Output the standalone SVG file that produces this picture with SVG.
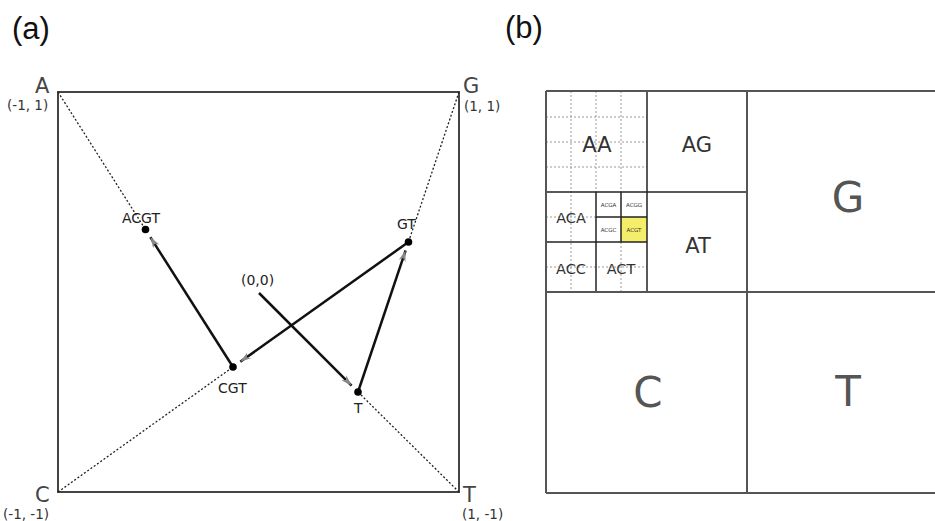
<svg xmlns="http://www.w3.org/2000/svg" width="935" height="521" viewBox="0 0 935 521">
<defs>
<style>
.t{font-family:"DejaVu Sans",Verdana,sans-serif;fill:#333}
.cap{font-family:"Liberation Sans",Arial,sans-serif;font-size:31px;fill:#111}
.corner{font-family:"DejaVu Sans",Verdana,sans-serif;font-size:21px;fill:#444}
.coord{font-family:"DejaVu Sans",Verdana,sans-serif;font-size:13.5px;fill:#333}
.lbl{font-family:"DejaVu Sans",Verdana,sans-serif;font-size:14px;fill:#222}
.dot{stroke:#222;stroke-width:1.3;stroke-dasharray:2 2;fill:none}
.arr{stroke:#111;stroke-width:2.5;fill:none;marker-end:url(#ah)}
.grid{stroke:#999;stroke-width:1;stroke-dasharray:2 2;fill:none}
.box{stroke:#222;stroke-width:1.5;fill:none}
.outer{stroke:#555;stroke-width:2;fill:none}
</style>
<marker id="ah" viewBox="0 0 12 8" refX="11" refY="4" markerWidth="12" markerHeight="8" markerUnits="userSpaceOnUse" orient="auto">
<path d="M0,0.5 L11,4 L0,7.5 L3,4 z" fill="#888"/>
</marker>
</defs>
<text class="cap" x="12" y="39">(a)</text>
<text class="cap" x="505" y="38">(b)</text>

<g id="panel-a">
<rect x="58" y="92" width="401" height="400" fill="none" stroke="#444" stroke-width="2"/>
<g id="corner-A"><text class="corner" x="35" y="93">A</text><text class="coord" x="7" y="110">(-1, 1)</text></g>
<g id="corner-G"><text class="corner" x="463" y="93">G</text><text class="coord" x="464" y="111">(1, 1)</text></g>
<g id="corner-C"><text class="corner" x="35" y="502">C</text><text class="coord" x="3" y="519">(-1, -1)</text></g>
<g id="corner-T"><text class="corner" x="463" y="502">T</text><text class="coord" x="462" y="519">(1, -1)</text></g>
</g>

<g id="guides">
<line class="dot" x1="58" y1="92" x2="145.5" y2="229.5"/>
<line class="dot" x1="459" y1="92" x2="408.5" y2="242"/>
<line class="dot" x1="58" y1="492" x2="233" y2="367"/>
<line class="dot" x1="459" y1="492" x2="358" y2="392"/>
</g>

<g id="connectors">
<line class="arr" x1="259" y1="293" x2="351.6" y2="385.6"/>
<line class="arr" x1="358" y1="392" x2="405.6" y2="250.5"/>
<line class="arr" x1="408.5" y1="242" x2="240.3" y2="361.8"/>
<line class="arr" x1="233" y1="367" x2="150.3" y2="237.1"/>
</g>

<g id="node-origin"><text class="lbl" x="241" y="285">(0,0)</text></g>
<g id="node-T"><circle cx="358" cy="392" r="3.8" fill="#000"/><text class="lbl" x="354" y="413">T</text></g>
<g id="node-GT"><circle cx="408.5" cy="242" r="3.8" fill="#000"/><text class="lbl" x="397" y="229">GT</text></g>
<g id="node-CGT"><circle cx="233" cy="367" r="3.8" fill="#000"/><text class="lbl" x="218" y="393">CGT</text></g>
<g id="node-ACGT"><circle cx="145.5" cy="229.5" r="3.8" fill="#000"/><text class="lbl" x="122" y="223">ACGT</text></g>

<g id="panel-b">
<rect x="621" y="217" width="26" height="25" fill="#f5ee6b"/>
<g id="dotted-grid">
<line class="grid" x1="571" y1="91" x2="571" y2="292"/>
<line class="grid" x1="596" y1="91" x2="596" y2="192"/>
<line class="grid" x1="621" y1="91" x2="621" y2="192"/>
<line class="grid" x1="621" y1="242" x2="621" y2="292"/>
<line class="grid" x1="546" y1="117" x2="647" y2="117"/>
<line class="grid" x1="546" y1="142" x2="647" y2="142"/>
<line class="grid" x1="546" y1="167" x2="647" y2="167"/>
<line class="grid" x1="546" y1="217" x2="596" y2="217"/>
<line class="grid" x1="546" y1="267" x2="647" y2="267"/>
</g>
<g id="inner-boxes">
<line class="box" x1="647" y1="91" x2="647" y2="292"/>
<line class="box" x1="546" y1="192" x2="747" y2="192"/>
<line class="box" x1="596" y1="192" x2="596" y2="292"/>
<line class="box" x1="546" y1="242" x2="647" y2="242"/>
<line class="box" x1="621" y1="192" x2="621" y2="242"/>
<line class="box" x1="596" y1="217" x2="647" y2="217"/>
<line class="box" x1="546" y1="292" x2="747" y2="292"/>
</g>
<g id="outer-boxes">
<line class="outer" x1="546" y1="91" x2="946" y2="91"/>
<line class="outer" x1="546" y1="493" x2="946" y2="493"/>
<line class="outer" x1="546" y1="91" x2="546" y2="493"/>
<line class="outer" x1="747" y1="91" x2="747" y2="493"/>
<line class="outer" x1="747" y1="292" x2="946" y2="292"/>
<line class="outer" x1="546" y1="292" x2="747" y2="292"/>
</g>
<g id="labels-b" class="t" text-anchor="middle">
<text x="597" y="152" font-size="21">AA</text>
<text x="697" y="152" font-size="21">AG</text>
<text x="698" y="253" font-size="21">AT</text>
<text x="571" y="223" font-size="14.5">ACA</text>
<text x="571" y="274" font-size="14.5">ACC</text>
<text x="621" y="274" font-size="14.5">ACT</text>
<text x="608.5" y="207" font-size="5.5">ACGA</text>
<text x="634" y="207" font-size="5.5">ACGG</text>
<text x="608.5" y="231.5" font-size="5.5">ACGC</text>
<text x="634" y="231.5" font-size="5.5">ACGT</text>
<text x="848" y="212" font-size="42" fill="#555">G</text>
<text x="648" y="407" font-size="42" fill="#555">C</text>
<text x="848" y="406" font-size="42" fill="#555">T</text>
</g>
</g>
</svg>
